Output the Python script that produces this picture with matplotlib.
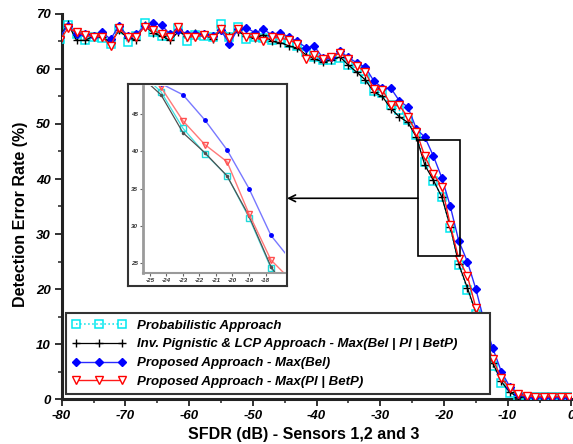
import numpy as np
import matplotlib
matplotlib.use('Agg')
import matplotlib.pyplot as plt
from matplotlib.patches import Rectangle
from matplotlib.ticker import MultipleLocator

plt.rcParams['font.family'] = ['Liberation Sans', 'DejaVu Sans']
plt.rcParams['axes.unicode_minus'] = False

# ---------------- data ----------------
sfdr = [-80.33, -79.00, -77.67, -76.33, -75.00, -73.67, -72.33, -71.00, -69.67, -68.33,
        -67.00, -65.67, -64.33, -63.00, -61.67, -60.33, -59.00, -57.67, -56.33, -55.00,
        -53.67, -52.33, -51.00, -49.67, -48.33, -47.00, -45.67, -44.33, -43.00, -41.67,
        -40.33, -39.00, -37.67, -36.33, -35.00, -33.67, -32.33, -31.00, -29.67, -28.33,
        -27.00, -25.67, -24.33, -23.00, -21.67, -20.33, -19.00, -17.67, -16.33, -15.00,
        -13.67, -12.33, -11.00, -9.67, -8.33, -7.00, -5.67, -4.33, -3.00, -1.67, -0.33]

prob = [65.5, 68.0, 66.4, 65.3, 65.8, 65.7, 64.6, 67.3, 64.9, 66.0,
        68.4, 66.8, 66.0, 66.0, 67.4, 65.0, 66.2, 66.0, 65.8, 68.1,
        65.9, 67.6, 65.4, 65.9, 65.6, 65.2, 65.4, 64.8, 64.2, 63.0,
        62.2, 61.6, 61.6, 62.0, 60.8, 60.1, 58.2, 56.0, 55.6, 53.4,
        52.5, 50.8, 48.0, 43.1, 39.7, 36.7, 31.1, 24.3, 19.9, 15.5,
        10.5, 6.0, 3.0, 1.1, 0.3, 0.3, 0.3, 0.3, 0.3, 0.3, 0.3]

pign = [65.8, 68.2, 65.2, 65.2, 66.0, 65.8, 64.8, 67.0, 65.7, 65.3,
        68.0, 66.5, 66.0, 65.2, 66.8, 66.0, 66.6, 66.2, 65.5, 67.0,
        66.0, 66.8, 66.0, 65.6, 66.2, 65.0, 64.8, 64.2, 63.8, 62.6,
        61.8, 61.3, 61.6, 62.2, 60.7, 59.4, 58.0, 55.8, 55.0, 52.8,
        51.3, 50.3, 47.6, 42.5, 39.8, 36.7, 31.3, 24.5, 20.2, 15.8,
        10.8, 6.5, 3.2, 1.2, 0.4, 0.3, 0.3, 0.3, 0.3, 0.3, 0.3]

max_bel = [65.8, 67.9, 66.3, 66.4, 66.0, 66.7, 65.4, 67.9, 66.0, 66.3,
           67.8, 68.3, 68.0, 66.3, 67.1, 66.4, 66.4, 66.3, 66.0, 67.0,
           64.6, 67.3, 67.5, 66.6, 67.2, 66.2, 66.6, 65.8, 65.0, 63.9,
           64.1, 62.0, 62.1, 63.2, 62.1, 61.1, 60.3, 57.8, 56.6, 56.5,
           54.2, 53.1, 49.1, 47.6, 44.2, 40.2, 35.0, 28.7, 25.0, 20.0,
           14.0, 9.2, 5.0, 2.2, 1.0, 0.5, 0.4, 0.4, 0.4, 0.4, 0.4]

max_pl = [65.2, 67.4, 66.7, 66.1, 65.9, 65.9, 64.2, 67.4, 65.9, 65.9,
          67.6, 67.0, 66.4, 65.9, 67.6, 65.8, 65.9, 66.1, 65.7, 67.3,
          65.7, 67.3, 65.9, 65.8, 65.1, 65.8, 65.6, 65.3, 64.6, 61.8,
          62.5, 61.9, 62.1, 62.9, 61.8, 60.6, 59.4, 56.3, 56.2, 53.5,
          53.4, 51.2, 48.6, 44.1, 40.9, 38.6, 31.6, 25.4, 22.4, 16.6,
          11.5, 7.2, 3.8, 2.0, 0.9, 0.5, 0.4, 0.4, 0.4, 0.4, 0.4]

labels = ["Probabilistic Approach",
          "Inv. Pignistic & LCP Approach - Max(Bel | Pl | BetP)",
          "Proposed Approach - Max(Bel)",
          "Proposed Approach - Max(Pl | BetP)"]

x_ticks = [-80, -70, -60, -50, -40, -30, -20, -10, 0]
y_ticks = [0, 10, 20, 30, 40, 50, 60, 70]
inset_x_ticks = [-25, -24, -23, -22, -21, -20, -19, -18]
inset_y_ticks = [25, 30, 35, 40, 45]

# ---------------- figure ----------------
W, H = 573, 444
fig = plt.figure(figsize=(W / 100, H / 100), dpi=100)


def fx(px):
    return px / W


def fy(py):
    return 1 - py / H


ax = fig.add_axes([fx(61.7), fy(399), fx(571.4) - fx(61.7), fy(14) - fy(399)])

ax.plot(sfdr, prob, color='#00e0e8', ls=':', lw=1.1, marker='s', ms=5.5,
        mfc='none', mec='#00e8f0', mew=1.1, label=labels[0], zorder=3)
ax.plot(sfdr, pign, color='black', lw=0.9, marker='+', ms=6, mew=1.0,
        label=labels[1], zorder=3)
ax.plot(sfdr, max_bel, color='#2a2aff', lw=1.0, marker='D', ms=3.8,
        mfc='#0000ff', mec='#0000ff', label=labels[2], zorder=3)
ax.plot(sfdr, max_pl, color='#ff1a1a', lw=1.0, marker='v', ms=6,
        mfc='white', mec='red', mew=1.0, label=labels[3], zorder=3)

ax.set_xlim(-80, 0)
ax.set_ylim(0, 70)
ax.set_xticks(x_ticks)
ax.set_yticks(y_ticks)
ax.set_xticklabels([str(v) for v in x_ticks])
ax.set_yticklabels([str(v) for v in y_ticks])
ax.xaxis.set_minor_locator(MultipleLocator(5))
ax.yaxis.set_minor_locator(MultipleLocator(5))
ax.tick_params(which='major', direction='out', length=5, width=1.3,
               labelsize=9.5, pad=3, color='#222222')
ax.tick_params(which='minor', direction='out', length=3, width=1.1, color='#222222')
for lab in ax.get_xticklabels() + ax.get_yticklabels():
    lab.set_fontweight('bold')
    lab.set_fontstyle('italic')
for s in ['top', 'right']:
    ax.spines[s].set_visible(False)
for s in ['left', 'bottom']:
    ax.spines[s].set_linewidth(2.2)
    ax.spines[s].set_color('#222222')

leg = ax.legend(loc='lower left',
                bbox_to_anchor=(fx(66), fy(394), fx(490) - fx(66), fy(311) - fy(394)),
                bbox_transform=fig.transFigure, mode='expand', numpoints=3,
                handlelength=4.1, handletextpad=0.8, borderpad=0.45,
                labelspacing=0.5, borderaxespad=0, fancybox=False,
                framealpha=1, edgecolor='#333333',
                prop=dict(weight='bold', style='italic', size=9.5))
leg.get_frame().set_linewidth(1.5)
leg.set_zorder(10)

# zoom rectangle and arrow
ax.add_patch(Rectangle((-24.1, 26.0), 6.6, 21.1, fill=False, ec='black', lw=1.2, zorder=5))
ax.annotate('', xy=(fx(287), fy(198.3)), xycoords='figure fraction',
            xytext=(-24.1, 36.5), textcoords='data',
            arrowprops=dict(arrowstyle='->', color='black', lw=1.2,
                            shrinkA=0, shrinkB=0, mutation_scale=12))

# ---------------- inset ----------------
box = fig.add_axes([fx(128), fy(286), fx(287) - fx(128), fy(84) - fy(286)])
box.set_xticks([])
box.set_yticks([])
for s in box.spines.values():
    s.set_linewidth(1.5)
    s.set_color('#333333')
box.set_zorder(3)

ins = fig.add_axes([fx(143), fy(273), fx(285) - fx(143), fy(86) - fy(273)])
ins.set_zorder(4)
ins.patch.set_alpha(0)
ins.plot(sfdr, prob, color='#40e0e0', lw=0.9, marker='s', ms=4, mfc='none', mec='#20d8d8')
ins.plot(sfdr, pign, color='#505050', lw=0.9, marker='.', ms=3)
ins.plot(sfdr, max_bel, color='#7878ff', lw=1.0, marker='o', ms=2.5, mfc='blue', mec='blue')
ins.plot(sfdr, max_pl, color='#ff7878', lw=1.0, marker='v', ms=4, mfc='none', mec='#ff5050')
ins.set_xlim(-25.42, -16.82)
ins.set_ylim(23.65, 48.78)
ins.set_xticks(inset_x_ticks)
ins.set_yticks(inset_y_ticks)
ins.set_xticklabels([str(v) for v in inset_x_ticks])
ins.set_yticklabels([str(v) for v in inset_y_ticks])
ins.tick_params(direction='out', length=2, width=0.8, labelsize=4.5, pad=1.5,
                color='#666666', labelcolor='#333333')
for lab in ins.get_xticklabels() + ins.get_yticklabels():
    lab.set_fontweight('bold')
    lab.set_fontstyle('italic')
for s in ['top', 'right']:
    ins.spines[s].set_visible(False)
ins.spines['left'].set_linewidth(2)
ins.spines['left'].set_color('#9a9a9a')
ins.spines['bottom'].set_linewidth(1.5)
ins.spines['bottom'].set_color('#9a9a9a')

# axis labels
fig.text(fx(304), fy(434), 'SFDR (dB) - Sensors 1,2 and 3', ha='center', va='center',
         fontsize=11.5, fontweight='bold')
fig.text(fx(21), fy(214.5), 'Detection Error Rate (%)', rotation=90, ha='center',
         va='center', fontsize=11.5, fontweight='bold')

fig.savefig('out.png', dpi=100)
